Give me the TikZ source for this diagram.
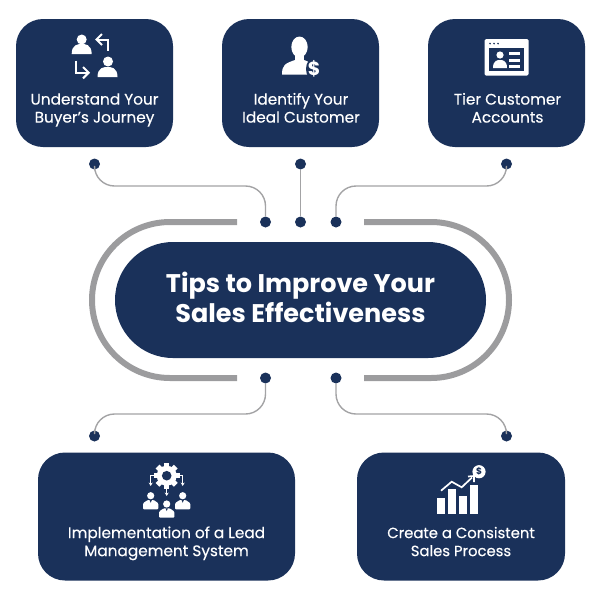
\documentclass[tikz,border=0pt]{standalone}
\usepackage{fontspec}
\setmainfont{Poppins}
\newfontfamily\labfont[FakeBold=0.25]{Poppins}
\usetikzlibrary{arrows.meta}
\definecolor{navy}{HTML}{1A315A}
\definecolor{ring}{HTML}{9C9C9E}
\definecolor{wire}{HTML}{A3A3A5}
\tikzset{
  x=1pt,y=-1pt,
  box/.style={fill=navy,rounded corners=27pt,inner sep=0pt,minimum height=128pt},
  lab/.style={text=white,align=center,font=\labfont\fontsize{15.3}{18}\selectfont,inner sep=0pt},
  dot/.style={circle,fill=navy,minimum size=11pt,inner sep=0pt},
  wireline/.style={draw=wire,line width=1.4pt,rounded corners=20pt},
  ringline/.style={draw=ring,line width=6pt},
  ic/.style={fill=white,draw=none},
  icl/.style={draw=white,line width=2pt,line join=miter},
  chev/.style={draw=white,line width=2pt},
}
\newcommand{\bust}[4]{% x, y base, half width, height
  \fill[ic] (#1-#3,#2) .. controls (#1-#3,#2-#4) and (#1-#3*0.3,#2-#4) .. (#1,#2-#4) .. controls (#1+#3*0.3,#2-#4) and (#1+#3,#2-#4) .. (#1+#3,#2) -- cycle;}
\begin{document}
\begin{tikzpicture}
\useasboundingbox (0,0) rectangle (601,600);
% boxes
\node[box,minimum width=157pt] (b1) at (94.5,83) {};
\node[box,minimum width=157pt] (b2) at (300.5,83) {};
\node[box,minimum width=157pt] (b3) at (506.5,83) {};
\node[box,minimum width=257pt] (b4) at (166.5,516.5) {};
\node[box,minimum width=208pt] (b5) at (461,516.5) {};
\node[fill=navy,rounded corners=58pt,minimum width=371pt,minimum height=116pt,inner sep=0pt] (hub) at (300.5,300) {};
% labels
\node[lab] (t1) at (94.5,110) {\strut Understand Your\\\strut Buyer’s Journey};
\node[lab] (t2) at (301,110) {\strut Identify Your\\\strut Ideal Customer};
\node[lab] (t3) at (507.5,110) {\strut Tier Customer\\\strut Accounts};
\node[lab] (t4) at (166.5,543.5) {\strut Implementation of a Lead\\\strut Management System};
\node[lab,font=\labfont\fontsize{14.8}{18}\selectfont] (t5) at (461,543.5) {\strut Create a Consistent\\\strut Sales Process};
\node[text=white,align=center,inner sep=0pt,font=\fontsize{25.5}{30}\selectfont\bfseries] (title) at (300.5,297) {Tips to Improve Your\\Sales Effectiveness};
% rings
\draw[ringline] (237,222) -- (170,222) arc[start angle=270,end angle=90,radius=78] -- (237,378);
\draw[ringline] (364,222) -- (431,222) arc[start angle=-90,end angle=90,radius=78] -- (364,378);
% dots
\node[dot] (d1) at (94.5,164) {};
\node[dot] (d2) at (300.5,164) {};
\node[dot] (d3) at (506.5,164) {};
\node[dot] (e1) at (265.5,222) {};
\node[dot] (e2) at (300.5,222) {};
\node[dot] (e3) at (336,222) {};
\node[dot] (f1) at (265.5,378) {};
\node[dot] (f2) at (336,378) {};
\node[dot] (g1) at (94.5,436) {};
\node[dot] (g2) at (506.5,436) {};
\coordinate (mt) at (0,186);
\coordinate (mb) at (0,414);
% connectors
\draw[wireline] (d1.south) |- (e1 |- mt) -- (e1.north);
\draw[draw=wire,line width=1.4pt] (d2) -- (e2);
\draw[wireline] (d3.south) |- (e3 |- mt) -- (e3.north);
\draw[wireline] (f1.south) |- (g1 |- mb) -- (g1.north);
\draw[wireline] (f2.south) |- (g2 |- mb) -- (g2.north);
% icon 1
\fill[ic] (81.7,39.5) circle[radius=5];
\bust{81.7}{54}{10}{10}
\fill[ic] (108,61.5) circle[radius=5];
\bust{107.5}{77}{10}{10}
\draw[icl] (107.7,50.7) -- (107.7,39.5) -- (97,39.5);
\draw[chev] (102,34) -- (96.5,39.5) -- (102,45);
\draw[icl] (75.7,60.5) -- (75.7,72.7) -- (88,72.7);
\draw[chev] (83,67) -- (88.7,72.7) -- (83,78.4);
% icon 2
\fill[ic] (299.5,47) ellipse[x radius=8.2,y radius=10.5];
\fill[ic] (295,54) rectangle (304,64);
\fill[ic] (282,74.5) .. controls (282,65) and (285,63.5) .. (295,60) -- (304,60) .. controls (312,63) and (316,65) .. (316,74.5) -- cycle;
\fill[navy] (314,69) ellipse[x radius=8,y radius=11];
\node[text=white,inner sep=0pt,font=\fontsize{19}{19}\selectfont\bfseries] (dollar) at (314,69) {\$};
% icon 3
\fill[ic,rounded corners=1.5pt] (484.5,39) rectangle (528.5,75.7);
\fill[navy] (489,48.3) rectangle (523.8,71);
\foreach \x in {490,494,498} \fill[navy] (\x,43.6) circle[radius=.9];
\fill[ic] (500,55) circle[radius=3.6];
\bust{500}{68}{7}{8}
\fill[ic] (509,52) rectangle (520,55);
\fill[ic] (509,58.5) rectangle (520,61.5);
\fill[ic] (509,65) rectangle (520,68);
% icon 4
\foreach \a in {0,45,...,315}
  \fill[ic,rotate around={\a:(166.7,475.7)}] (164,462.8) rectangle (169.4,468);
\fill[ic] (166.7,475.7) circle[radius=10];
\fill[navy] (166.7,475.7) circle[radius=4.8];
\draw[white,line width=.8pt,-{Stealth[length=3.5pt,width=4pt]}] (155,475.7) -- (150.7,475.7) -- (150.7,486);
\draw[white,line width=.8pt,-{Stealth[length=3.5pt,width=4pt]}] (178,475.7) -- (182.7,475.7) -- (182.7,486);
\draw[white,line width=.8pt,-{Stealth[length=3.5pt,width=4pt]}] (166.7,488) -- (166.7,496);
\foreach \x/\y in {150.7/495.7,182.7/495.7,166.7/504}{
  \fill[ic] (\x,\y) circle[radius=3.6];
  \fill[ic,rounded corners=1pt] (\x-7.6,\y+13.7) -- (\x-7.6,\y+7.5) -- (\x-3,\y+4.3) -- (\x+3,\y+4.3) -- (\x+7.6,\y+7.5) -- (\x+7.6,\y+13.7) -- cycle;
  \fill[navy] (\x-1.2,\y+4.3) -- (\x+1.2,\y+4.3) -- (\x,\y+7) -- cycle;
}
% icon 5
\fill[ic] (437.3,497.7) rectangle (445,513.5);
\fill[ic] (448.3,489) rectangle (456,513.5);
\fill[ic] (459,495.7) rectangle (466.7,513.5);
\fill[ic] (470,484.5) rectangle (477.7,513.5);
\draw[white,line width=1.7pt] (441,490.7) -- (451.7,481.7) -- (461.7,487.3) -- (472,477.5);
\draw[white,line width=1.7pt] (468,476.5) -- (474,476) -- (474,482);
\fill[ic] (479,471.7) circle[radius=6.6];
\node[text=navy,inner sep=0pt,font=\fontsize{9}{9}\selectfont\bfseries] (coin) at (479,471.7) {\$};
\end{tikzpicture}
\end{document}
